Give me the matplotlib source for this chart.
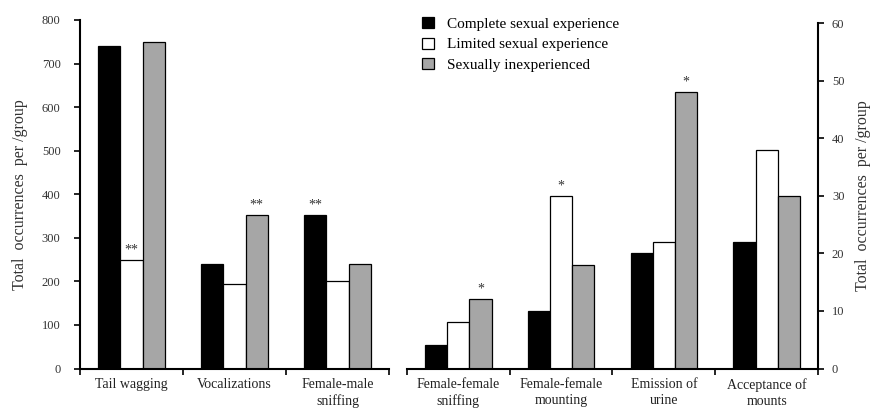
import matplotlib
matplotlib.use("Agg")
import matplotlib.pyplot as plt
import numpy as np
from matplotlib.patches import Patch

plt.rcParams['font.family'] = ['Liberation Serif', 'DejaVu Serif']

series = ["Complete sexual experience", "Limited sexual experience", "Sexually inexperienced"]
colors = ["#000000", "#ffffff", "#a6a6a6"]

left_cats = ["Tail wagging", "Vocalizations", "Female-male\nsniffing"]
left_complete = [740, 240, 352]
left_limited = [250, 193, 200]
left_inexp = [750, 352, 240]
left_marks = [(1, "**"), (2, "**"), (0, "**")]  # (series index, mark) per category

right_cats = ["Female-female\nsniffing", "Female-female\nmounting", "Emission of\nurine", "Acceptance of\nmounts"]
right_complete = [4, 10, 20, 22]
right_limited = [8, 30, 22, 38]
right_inexp = [12, 18, 48, 30]
right_marks = [(2, "*"), (1, "*"), (2, "*"), None]

W, H = 878, 408
fig = plt.figure(figsize=(W / 100, H / 100), dpi=100)

def px_axes(x0, x1, ytop, ybot):
    return fig.add_axes([x0 / W, (H - ybot) / H, (x1 - x0) / W, (ybot - ytop) / H])

ax1 = px_axes(80, 389, 20, 368.5)
ax2 = px_axes(407, 818, 23.3, 368.5)

bw = 0.215

def draw(ax, cats, vals, marks, ymax, side):
    n = len(cats)
    x = np.arange(n)
    for k, (v, c) in enumerate(zip(vals, colors)):
        ax.bar(x + (k - 1) * bw, v, width=bw, color=c, edgecolor="black", linewidth=0.9, zorder=2)
    for i, m in enumerate(marks):
        if m is None:
            continue
        k, s = m
        ax.text(i + (k - 1) * bw, vals[k][i] + ymax * 0.01, s, ha="center", va="bottom",
                fontsize=10, color="#333333")
    ax.set_xlim(-0.5, n - 0.5)
    ax.set_ylim(0, ymax)
    ax.set_xticks(x)
    ax.set_xticklabels(cats, fontsize=10, linespacing=1.3, color="#222222")
    ax.tick_params(axis="x", which="major", length=0, pad=7)
    ax.set_xticks(np.arange(n + 1) - 0.5, minor=True)
    ax.tick_params(axis="x", which="minor", length=4, width=1.2, direction="out")
    ax.spines["top"].set_visible(False)
    ax.spines["bottom"].set_linewidth(1.5)
    if side == "left":
        ax.spines["right"].set_visible(False)
        ax.spines["left"].set_linewidth(1.5)
        ax.yaxis.set_ticks_position("left")
        pad, lpad = 10, 10
    else:
        ax.spines["left"].set_visible(False)
        ax.spines["right"].set_linewidth(1.5)
        ax.yaxis.set_ticks_position("right")
        ax.yaxis.set_label_position("right")
        pad, lpad = 6, 8
    ax.tick_params(axis="y", length=4, width=1.2, labelsize=9, pad=pad, labelcolor="#333333")
    ax.set_ylabel("Total  occurrences  per /group", fontsize=11.5, color="#333333", labelpad=lpad)

draw(ax1, left_cats, [left_complete, left_limited, left_inexp], left_marks, 800, "left")
ax1.set_yticks(np.arange(0, 801, 100))
draw(ax2, right_cats, [right_complete, right_limited, right_inexp], right_marks, 60, "right")
ax2.set_yticks(np.arange(0, 61, 10))

handles = [Patch(facecolor=c, edgecolor="black", linewidth=0.9) for c in colors]
fig.legend(handles, series, loc="upper left", bbox_to_anchor=(410 / W, 1 - 5 / H), frameon=False,
           fontsize=11, handlelength=0.75, handleheight=0.75, handletextpad=0.85, labelspacing=0.42,
           borderpad=0.3)

fig.savefig("out.png", dpi=100)
